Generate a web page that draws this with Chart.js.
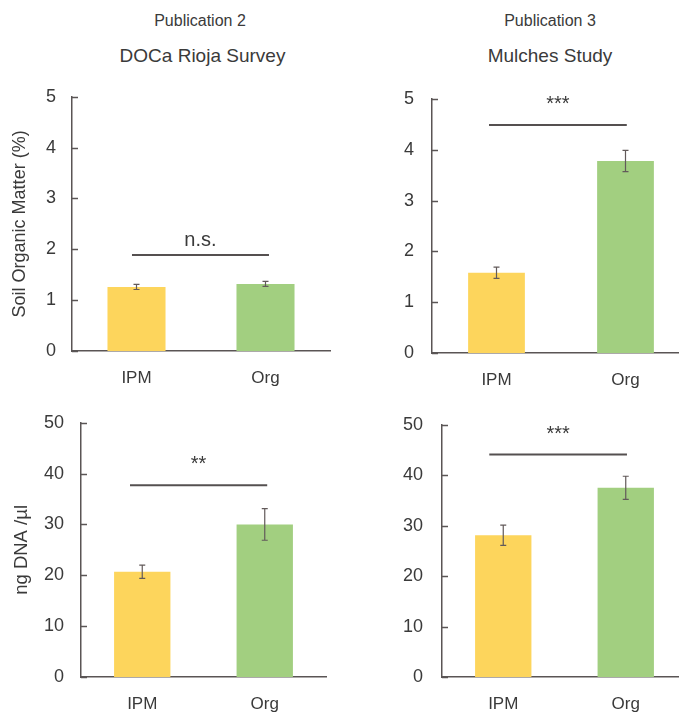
<!DOCTYPE html>
<html>
<head>
<meta charset="utf-8">
<script src="https://cdn.jsdelivr.net/npm/chart.js@4.4.1/dist/chart.umd.min.js"></script>
<style>
  html, body { margin: 0; padding: 0; background: #fff; width: 679px; height: 717px; overflow: hidden; }
  canvas { position: absolute; }
  .head { position: absolute; text-align: center; font-family: 'Liberation Sans', Arial, sans-serif; color: #3a3a3a; white-space: nowrap; }
</style>
</head>
<body>
<div class="head" style="left:100px; top:12px; width:200px; font-size:16px;">Publication 2</div>
<div class="head" style="left:80px; top:45px; width:245px; font-size:19px;">DOCa Rioja Survey</div>
<div class="head" style="left:450px; top:12px; width:200px; font-size:16px;">Publication 3</div>
<div class="head" style="left:430px; top:45px; width:240px; font-size:19px;">Mulches Study</div>

<canvas id="somRiojaChart" width="340" height="330" style="left:0px; top:70px;"></canvas>
<canvas id="somMulchChart" width="350" height="330" style="left:340px; top:70px;"></canvas>
<canvas id="dnaRiojaChart" width="340" height="322" style="left:0px; top:395px;"></canvas>
<canvas id="dnaMulchChart" width="350" height="322" style="left:340px; top:395px;"></canvas>

<script>
// Management systems compared in every panel
const groups = ['IPM', 'Org'];

// Soil organic matter (%), mean and standard error
const somRioja = [1.26, 1.32];
const somRiojaErr = [0.05, 0.05];
const somMulch = [1.58, 3.78];
const somMulchErr = [0.11, 0.21];

// Soil microbial DNA (ng/µl), mean and standard error
const dnaRioja = [20.7, 30.0];
const dnaRiojaErr = [1.3, 3.1];
const dnaMulch = [28.1, 37.5];
const dnaMulchErr = [2.0, 2.3];

// Axis ranges and tick steps
const somAxis = [0, 5, 1];
const dnaAxis = [0, 50, 10];

// Significance of the IPM vs Org comparison, and the level of its bracket
const sigLabels = ['n.s.', '***', '**', '***'];
const sigLevels = [1.89, 4.49, 37.7, 44.1];

const barColors = ['#fdd55c', '#a2cf80'];
const inkColor = '#3a3a3a';
const axisColor = '#5a5555';
const fontFamily = "'Liberation Sans', Arial, sans-serif";

// Short tick marks drawn on the inner side of the value axis
const innerTicks = {
  id: 'innerTicks',
  afterDraw(chart) {
    const y = chart.scales.y;
    const ctx = chart.ctx;
    ctx.save();
    ctx.strokeStyle = axisColor;
    ctx.lineWidth = 1.5;
    y.ticks.forEach(t => {
      const py = Math.round(y.getPixelForValue(t.value)) + 0.5;
      ctx.beginPath();
      ctx.moveTo(y.right, py);
      ctx.lineTo(y.right + 6, py);
      ctx.stroke();
    });
    ctx.restore();
  }
};

// Error bars (mean ± SE) on top of each bar
const errorBars = {
  id: 'errorBars',
  afterDatasetsDraw(chart, args, opts) {
    const ctx = chart.ctx;
    const y = chart.scales.y;
    const ds = chart.data.datasets[0];
    const meta = chart.getDatasetMeta(0);
    ctx.save();
    ctx.strokeStyle = '#625a5a';
    ctx.lineWidth = 1.2;
    meta.data.forEach((bar, i) => {
      const v = ds.data[i];
      const e = opts.errors[i];
      const top = y.getPixelForValue(v + e);
      const bot = y.getPixelForValue(v - e);
      const x = bar.x;
      ctx.beginPath();
      ctx.moveTo(x, top); ctx.lineTo(x, bot);
      ctx.moveTo(x - 3, top); ctx.lineTo(x + 3, top);
      ctx.moveTo(x - 3, bot); ctx.lineTo(x + 3, bot);
      ctx.stroke();
    });
    ctx.restore();
  }
};

// Significance bracket with its label
const sigBracket = {
  id: 'sigBracket',
  afterDraw(chart, args, opts) {
    const ctx = chart.ctx;
    const x = chart.scales.x;
    const y = chart.scales.y;
    const py = y.getPixelForValue(opts.level);
    const x0 = x.getPixelForValue(opts.from);
    const x1 = x.getPixelForValue(opts.to);
    ctx.save();
    ctx.strokeStyle = '#555050';
    ctx.lineWidth = 2;
    ctx.beginPath();
    ctx.moveTo(x0, py); ctx.lineTo(x1, py);
    ctx.stroke();
    ctx.fillStyle = inkColor;
    ctx.font = opts.size + 'px ' + fontFamily;
    ctx.textAlign = 'center';
    ctx.textBaseline = 'alphabetic';
    ctx.fillText(opts.label, (x0 + x1) / 2 + opts.dx, py - opts.gap);
    ctx.restore();
  }
};

function makePanel(id, values, errors, axis, sig, frame) {
  const canvas = document.getElementById(id);
  return new Chart(canvas, {
    type: 'bar',
    data: {
      labels: groups,
      datasets: [{
        data: values,
        backgroundColor: barColors,
        borderWidth: 0,
        categoryPercentage: 1,
        barPercentage: frame.barFrac
      }]
    },
    options: {
      responsive: false,
      animation: false,
      events: [],
      layout: { padding: { left: 0, top: frame.top, right: frame.right, bottom: 0 } },
      plugins: {
        legend: { display: false },
        tooltip: { enabled: false },
        errorBars: { errors: errors },
        sigBracket: sig
      },
      scales: {
        x: {
          grid: { display: false, drawTicks: false },
          border: { display: true, color: axisColor, width: 1.5 },
          ticks: { color: inkColor, font: { family: fontFamily, size: 17 }, padding: frame.xPad },
          afterFit(scale) { scale.height = frame.below; }
        },
        y: {
          min: axis[0],
          max: axis[1],
          grid: { display: false, drawTicks: false },
          border: { display: true, color: axisColor, width: 1.5 },
          ticks: { stepSize: axis[2], color: inkColor, font: { family: fontFamily, size: 18 }, padding: frame.yPad },
          title: frame.yTitle ? {
            display: true,
            text: frame.yTitle,
            color: inkColor,
            font: { family: fontFamily, size: frame.titleSize, lineHeight: 1.2 },
            padding: { top: frame.titleOffset, bottom: 0 }
          } : { display: false },
          afterFit(scale) { scale.width = frame.left; }
        }
      }
    },
    plugins: [innerTicks, errorBars, sigBracket]
  });
}

makePanel('somRiojaChart', somRioja, somRiojaErr, somAxis,
  { level: sigLevels[0], label: sigLabels[0], from: -0.035, to: 1.027, size: 20, gap: 9, dx: 0 },
  { left: 72, top: 24, right: 10, below: 49, barFrac: 0.45, xPad: 17, yPad: 16,
    yTitle: 'Soil Organic Matter (%)', titleSize: 18, titleOffset: 9 });

makePanel('somMulchChart', somMulch, somMulchErr, somAxis,
  { level: sigLevels[1], label: sigLabels[1], from: -0.058, to: 1.01, size: 20, gap: 15, dx: 0 },
  { left: 92, top: 29, right: 0, below: 47, barFrac: 0.44, xPad: 17, yPad: 18 });

makePanel('dnaRiojaChart', dnaRioja, dnaRiojaErr, dnaAxis,
  { level: sigLevels[2], label: sigLabels[2], from: -0.1, to: 1.02, size: 20, gap: 15, dx: 0 },
  { left: 81, top: 26, right: 14, below: 40, barFrac: 0.46, xPad: 17, yPad: 17,
    yTitle: 'ng DNA /µl', titleSize: 18.5, titleOffset: 11 });

makePanel('dnaMulchChart', dnaMulch, dnaMulchErr, dnaAxis,
  { level: sigLevels[3], label: sigLabels[3], from: -0.114, to: 1.01, size: 20, gap: 15, dx: 0 },
  { left: 102, top: 26, right: 3, below: 40, barFrac: 0.46, xPad: 17, yPad: 19 });
</script>
</body>
</html>
